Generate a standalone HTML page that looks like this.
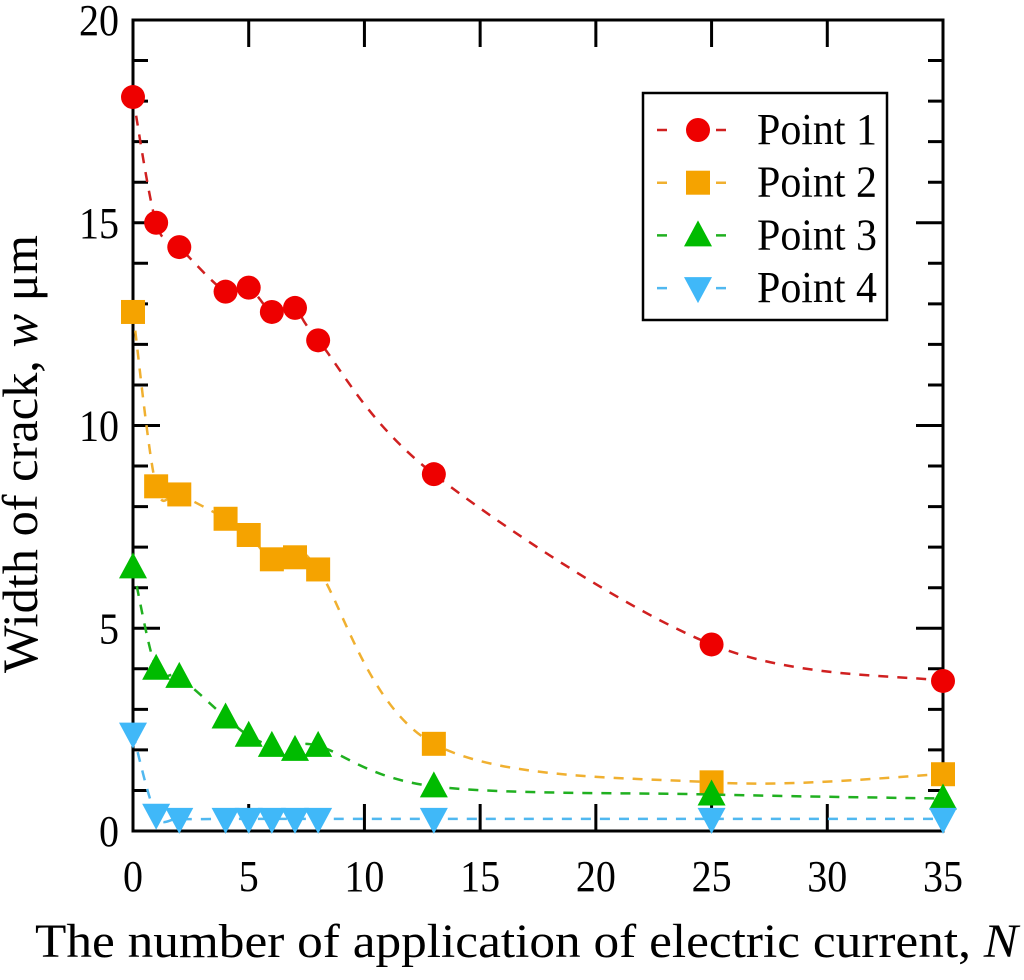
<!DOCTYPE html>
<html><head><meta charset="utf-8"><style>
html,body{margin:0;padding:0;background:#fff;}
svg{display:block;font-family:"Liberation Serif",serif;}
</style></head><body>
<svg id="chart" width="1024" height="980" xmlns="http://www.w3.org/2000/svg">
<g id="axes"></g>
<g id="series"></g>
<rect x="643" y="93" width="244" height="227" fill="#fff" stroke="#000" stroke-width="2.5"/>
<g id="legend"></g>
<text x="35" y="957" font-size="48" textLength="983" lengthAdjust="spacingAndGlyphs">The number of application of electric current, <tspan font-style="italic">N</tspan></text>
<text transform="translate(37,673) rotate(-90)" font-size="50" textLength="438" lengthAdjust="spacingAndGlyphs">Width of crack, <tspan font-style="italic">w</tspan> μm</text>
</svg>
<script>
const xVals = [0,1,2,4,5,6,7,8,13,25,35];
const point1 = [18.1,15,14.4,13.3,13.4,12.8,12.9,12.1,8.8,4.6,3.7];
const point2 = [12.8,8.5,8.3,7.7,7.3,6.7,6.75,6.45,2.15,1.2,1.4];
const point3 = [6.5,4,3.8,2.8,2.35,2.1,2.0,2.1,1.1,0.9,0.8];
const point4 = [2.4,0.4,0.3,0.3,0.3,0.3,0.3,0.3,0.3,0.3,0.3];
const seriesNames = ["Point 1","Point 2","Point 3","Point 4"];
const xTicks = [0,5,10,15,20,25,30,35];
const yTicks = [0,5,10,15,20];

const L=133,R=943,T=20,B=831;
const xs=v=>L+(v-0)/35*(R-L);
const ys=v=>B-(v/20)*(B-T);
const NS="http://www.w3.org/2000/svg";
function mk(tag,attrs,parent){const e=document.createElementNS(NS,tag);for(const k in attrs)e.setAttribute(k,attrs[k]);parent.appendChild(e);return e;}
const axes=document.getElementById('axes');
let fr=mk('rect',{x:L,y:T,width:R-L,height:B-T,fill:'none',stroke:'#000','stroke-width':3},axes);


xTicks.forEach(v=>{
  const x=xs(v);
  let t=mk('path',{d:`M${x},${B}v-27M${x},${T}v27`,stroke:'#000','stroke-width':3},axes);
  
  
  const s=String(v);
  let l=mk('text',{x:x,y:B+60,'font-size':44,'text-anchor':'middle',textLength:20*s.length,lengthAdjust:'spacingAndGlyphs'},axes);
  l.textContent=s;
  
  
});
for(let v=0;v<=20;v++){
  const y=ys(v);const len=v%5===0?27:15;
  let t=mk('path',{d:`M${L},${y}h${len}M${R},${y}h-${len}`,stroke:'#000','stroke-width':3},axes);
  
  
}
yTicks.forEach(v=>{
  const s=String(v);
  let l=mk('text',{x:119-20*s.length,y:ys(v)+15,'font-size':44,textLength:20*s.length,lengthAdjust:'spacingAndGlyphs'},axes);
  l.textContent=s;
  
  
});
const colors=['#e00','#f5a300','#00bb00','#40b8f8'];
const lineColors=['#d02020','#f0b030','#20b020','#50b8f0'];
const shapes=['circle','square','up','down'];
function marker(shape,x,y,color,parent){
  let e;
  if(shape==='circle')e=mk('circle',{cx:x,cy:y,r:12,fill:color},parent);
  else if(shape==='square')e=mk('rect',{x:x-12,y:y-12,width:24,height:24,fill:color},parent);
  else if(shape==='up')e=mk('path',{d:`M${x},${y-15}L${x+14},${y+11}L${x-14},${y+11}Z`,fill:color},parent);
  else e=mk('path',{d:`M${x},${y+15}L${x+14},${y-11}L${x-14},${y-11}Z`,fill:color},parent);
  return e;
}
function spline(pts){
  let d=`M${pts[0][0]},${pts[0][1]}`;
  for(let i=0;i<pts.length-1;i++){
    const p0=pts[Math.max(0,i-1)],p1=pts[i],p2=pts[i+1],p3=pts[Math.min(pts.length-1,i+2)];
    const c1x=p1[0]+(p2[0]-p0[0])/6,c1y=p1[1]+(p2[1]-p0[1])/6;
    const c2x=p2[0]-(p3[0]-p1[0])/6,c2y=p2[1]-(p3[1]-p1[1])/6;
    d+=`C${c1x},${c1y} ${c2x},${c2y} ${p2[0]},${p2[1]}`;
  }
  return d;
}
const sg=document.getElementById('series');
[point1,point2,point3,point4].forEach((data,si)=>{
  const g=mk('g',{},sg);
  
  
  const pts=xVals.map((x,i)=>[xs(x),ys(data[i])]);
  const ln=mk('path',{d:spline(pts),fill:'none',stroke:lineColors[si],'stroke-width':2.5,'stroke-dasharray':'10,9'},g);
  
  
  pts.forEach(p=>{
    const m=marker(shapes[si],p[0],p[1],colors[si],g);
    
    
  });
});
const lg=document.getElementById('legend');
seriesNames.forEach((n,i)=>{
  const y=130+i*52.7;
  const g=mk('g',{},lg);
  
  
  mk('path',{d:`M657,${y}h10M716,${y}h10`,stroke:lineColors[i],'stroke-width':2.5},g);
  marker(shapes[i],698,y,colors[i],g);
  const t=mk('text',{x:757,y:y+14,'font-size':44,textLength:120,lengthAdjust:'spacingAndGlyphs'},g);
  t.textContent=n;
});
</script>
</body></html>
